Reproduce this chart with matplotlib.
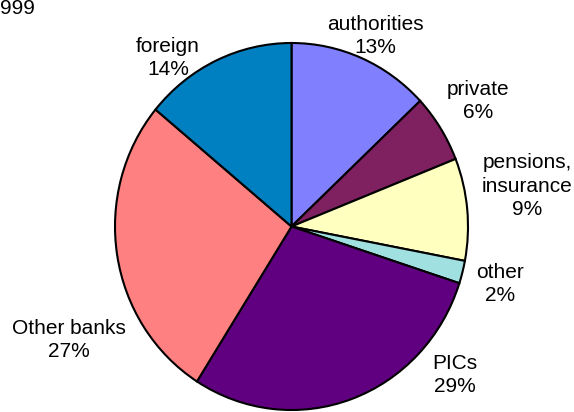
import matplotlib.pyplot as plt

categories = ["authorities", "private", "pensions,\ninsurance", "other", "PICs", "Other banks", "foreign"]
shares = [13, 6, 9, 2, 29, 27, 14]
colors = ["#8080FF", "#7F2060", "#FFFFC0", "#A0E0E0", "#600080", "#FF8080", "#0080C0"]

# label anchor positions in pixels (x from left, y from top)
label_pos = [(375, 36), (478, 101), (527, 186), (500, 284), (455, 375), (69, 340), (168, 58)]

W, H = 574, 412
fig = plt.figure(figsize=(W / 100, H / 100), dpi=100)
plt.rcParams['font.family'] = ['Liberation Sans', 'DejaVu Sans']

# slightly oval pie: horizontal and vertical radii differ
cx, cy, rx, ry = 291.5, 226.5, 176.5, 183.5
ax = fig.add_axes([(cx - rx) / W, (H - cy - ry) / H, 2 * rx / W, 2 * ry / H])
ax.pie(shares, colors=colors, startangle=90, counterclock=False,
       wedgeprops=dict(edgecolor="black", linewidth=1.5))
ax.set_aspect('auto')
ax.set_xlim(-1.0, 1.0)
ax.set_ylim(-1.0, 1.0)
ax.axis('off')

for name, val, (px, py) in zip(categories, shares, label_pos):
    fig.text(px / W, 1 - py / H, f"{name}\n{val}%", ha="center", va="center",
             fontsize=15, linespacing=1.3, color="black")

fig.text(0.0, 1 - 9 / H, "999", ha="left", va="center", fontsize=15)

fig.savefig("out.png", dpi=100)
